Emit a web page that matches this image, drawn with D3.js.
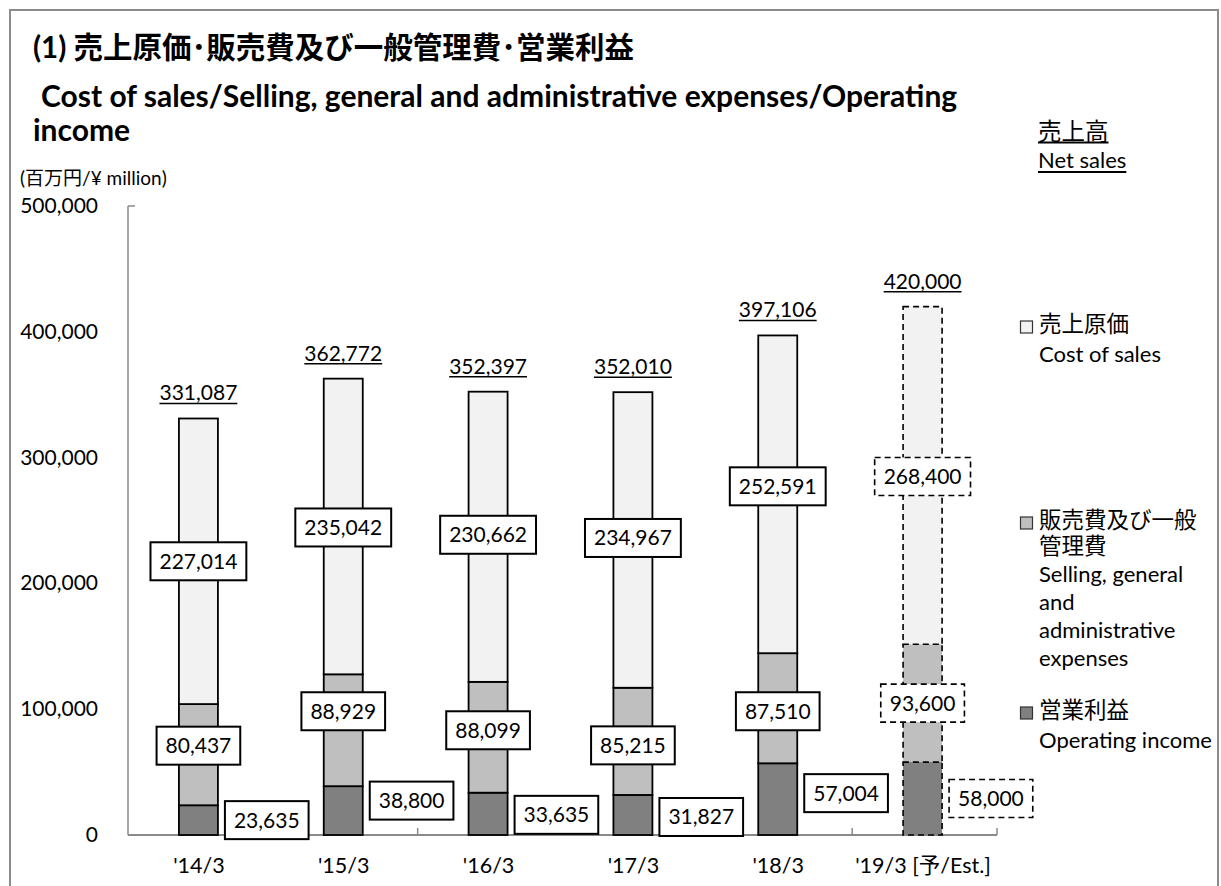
<!DOCTYPE html>
<html>
<head>
<meta charset="utf-8">
<script src="https://cdn.jsdelivr.net/npm/d3@7"></script>
<style>
  html, body { margin: 0; padding: 0; background: #fff; }
  svg { display: block; }
  text { font-family: Lato, "Noto Sans CJK JP", sans-serif; fill: #000; }
</style>
</head>
<body>
<svg id="chart" width="1221" height="886"></svg>
<script>
// ---- data ----
const categories = ["'14/3", "'15/3", "'16/3", "'17/3", "'18/3", "'19/3 [予/Est.]"];
const netSales = [331087, 362772, 352397, 352010, 397106, 420000];
const costOfSales = [227014, 235042, 230662, 234967, 252591, 268400];
const sgaExpenses = [80437, 88929, 88099, 85215, 87510, 93600];
const operatingIncome = [23635, 38800, 33635, 31827, 57004, 58000];
const isEstimate = [false, false, false, false, false, true];
const yTickValues = [0, 100000, 200000, 300000, 400000, 500000];

const titleLines = ["(1) 売上原価･販売費及び一般管理費･営業利益",
  "Cost of sales/Selling, general and administrative expenses/Operating",
  "income"];
const unitLabel = "(百万円/¥ million)";
const legendItems = [
  { jp: ["売上原価"], en: ["Cost of sales"], color: "#f2f2f2" },
  { jp: ["販売費及び一般", "管理費"], en: ["Selling, general", "and", "administrative", "expenses"], color: "#bfbfbf" },
  { jp: ["営業利益"], en: ["Operating income"], color: "#808080" }
];
const colors = { cost: "#f2f2f2", sga: "#bfbfbf", op: "#808080" };

// ---- layout ----
const svg = d3.select("#chart");
const axisColor = "#8a8a8a";
const y = d3.scaleLinear().domain([0, 500000]).range([835, 206]);
const x = d3.scaleBand().domain(categories).range([128, 997]).padding(0);
const barW = 39;
const barCenter = c => x(c) + x.bandwidth() / 2 - 2;
// hand-placed label offsets (pixels) as in the original chart
const labelNudgePx = {
  cost: [0, 1, -2, -2, -8, 1],
  sga: [-9, -19, -7, 4, 3, 0],
  op: [0, -10, 1, 2, -6, 0]
};

// outer frame
svg.append("path")
  .attr("d", "M10,900 L10,10 L1218,10 L1218,900")
  .attr("fill", "none").attr("stroke", "#8c8c8c").attr("stroke-width", 2);

// title
const tl = svg.append("g");
tl.append("text").attr("x", 33).attr("y", 58).attr("font-size", 29.5).attr("font-weight", "bold").text(titleLines[0]);
tl.append("text").attr("x", 41).attr("y", 107).attr("font-size", 30).attr("font-weight", "bold").text(titleLines[1]);
tl.append("text").attr("x", 33).attr("y", 141).attr("font-size", 30).attr("font-weight", "bold").text(titleLines[2]);

svg.append("text").attr("x", 20).attr("y", 185).attr("font-size", 19).text(unitLabel);

// y axis
svg.append("line").attr("x1", 128).attr("x2", 128).attr("y1", y(500000)).attr("y2", y(0))
  .attr("stroke", axisColor).attr("stroke-width", 1.5);
svg.append("line").attr("x1", 128).attr("x2", 135).attr("y1", y(500000)).attr("y2", y(500000))
  .attr("stroke", axisColor).attr("stroke-width", 1.5);
const yt = svg.append("g");
yTickValues.forEach(v => {
  yt.append("text").attr("x", 98).attr("y", y(v) + 7).attr("text-anchor", "end")
    .attr("font-size", 21).text(d3.format(",")(v));
});

// x axis
svg.append("line").attr("x1", 128).attr("x2", 997).attr("y1", y(0)).attr("y2", y(0))
  .attr("stroke", axisColor).attr("stroke-width", 2);
categories.forEach(c => {
  const b = x(c) + x.bandwidth();
  svg.append("line").attr("x1", b).attr("x2", b).attr("y1", y(0)).attr("y2", y(0) - 7)
    .attr("stroke", axisColor).attr("stroke-width", 1.5);
});
categories.forEach(c => {
  svg.append("text").attr("x", x(c) + x.bandwidth() / 2 - 1.5).attr("y", 873).attr("text-anchor", "middle")
    .attr("font-size", 21.5).text(c);
});

// bars
const bars = svg.append("g");
const labels = svg.append("g");

function labelBox(cx, cy, text, dashed, anchorLeft) {
  const g = labels.append("g");
  const t = g.append("text").attr("font-size", 21).text(text);
  const w = t.node().getComputedTextLength() + 18;
  const h = 38;
  const left = anchorLeft ? cx : cx - w / 2;
  g.insert("rect", "text").attr("x", left).attr("y", cy - h / 2).attr("width", w).attr("height", h)
    .attr("fill", "#fff").attr("stroke", "#000").attr("stroke-width", dashed ? 1.6 : 2)
    .attr("stroke-dasharray", dashed ? "6,4" : null);
  t.attr("x", left + w / 2).attr("y", cy + 7.5).attr("text-anchor", "middle");
}

categories.forEach((c, i) => {
  const cx = barCenter(c);
  const est = isEstimate[i];
  const segs = [
    { v0: 0, v1: operatingIncome[i], fill: colors.op },
    { v0: operatingIncome[i], v1: operatingIncome[i] + sgaExpenses[i], fill: colors.sga },
    { v0: operatingIncome[i] + sgaExpenses[i], v1: netSales[i], fill: colors.cost }
  ];
  segs.forEach(s => {
    bars.append("rect").attr("x", cx - barW / 2).attr("y", y(s.v1)).attr("width", barW)
      .attr("height", y(s.v0) - y(s.v1)).attr("fill", s.fill)
      .attr("stroke", "#000").attr("stroke-width", est ? 1.6 : 1.8)
      .attr("stroke-dasharray", est ? "6,4" : null);
  });
  // net sales label (underlined)
  const nt = labels.append("text").attr("x", cx).attr("y", y(netSales[i]) - 18)
    .attr("text-anchor", "middle").attr("font-size", 21).text(d3.format(",")(netSales[i]));
  const nw = nt.node().getComputedTextLength();
  labels.append("line").attr("x1", cx - nw / 2).attr("x2", cx + nw / 2)
    .attr("y1", y(netSales[i]) - 15).attr("y2", y(netSales[i]) - 15).attr("stroke", "#000").attr("stroke-width", 1.5);

  labelBox(cx, y((segs[2].v0 + segs[2].v1) / 2) + labelNudgePx.cost[i], d3.format(",")(costOfSales[i]), est, false);
  labelBox(cx, y((segs[1].v0 + segs[1].v1) / 2) + labelNudgePx.sga[i], d3.format(",")(sgaExpenses[i]), est, false);
  labelBox(cx + barW / 2 + 7, y((segs[0].v0 + segs[0].v1) / 2) + labelNudgePx.op[i], d3.format(",")(operatingIncome[i]), est, true);
});

// legend
const lg = svg.append("g");
const ns1 = lg.append("text").attr("x", 1038).attr("y", 140).attr("font-size", 23.5).text("売上高");
const ns2 = lg.append("text").attr("x", 1038).attr("y", 168).attr("font-size", 22).text("Net sales");
[[ns1, 142.5], [ns2, 172]].forEach(([t, yy]) => {
  const w = t.node().getComputedTextLength();
  lg.append("line").attr("x1", 1038).attr("x2", 1038 + w).attr("y1", yy).attr("y2", yy)
    .attr("stroke", "#000").attr("stroke-width", 1.8);
});
const legendTops = [332, 528, 718];
legendItems.forEach((it, k) => {
  const base = legendTops[k];
  lg.append("rect").attr("x", 1020.5).attr("y", base - 11).attr("width", 12).attr("height", 12)
    .attr("fill", it.color).attr("stroke", "#333").attr("stroke-width", 1.2);
  const jt = lg.append("text").attr("x", 1039).attr("y", base).attr("font-size", 22.5);
  it.jp.forEach((s, j) => {
    jt.append("tspan").attr("x", 1039).attr("dy", j === 0 ? 0 : 26).text(s);
  });
  let yy = base + 26 * (it.jp.length - 1);
  it.en.forEach((s, j) => {
    yy += (j === 0 ? (it.jp.length > 1 ? 28 : 29.5) : 28);
    lg.append("text").attr("x", 1039).attr("y", yy).attr("font-size", 22).text(s);
  });
});
</script>
</body>
</html>
